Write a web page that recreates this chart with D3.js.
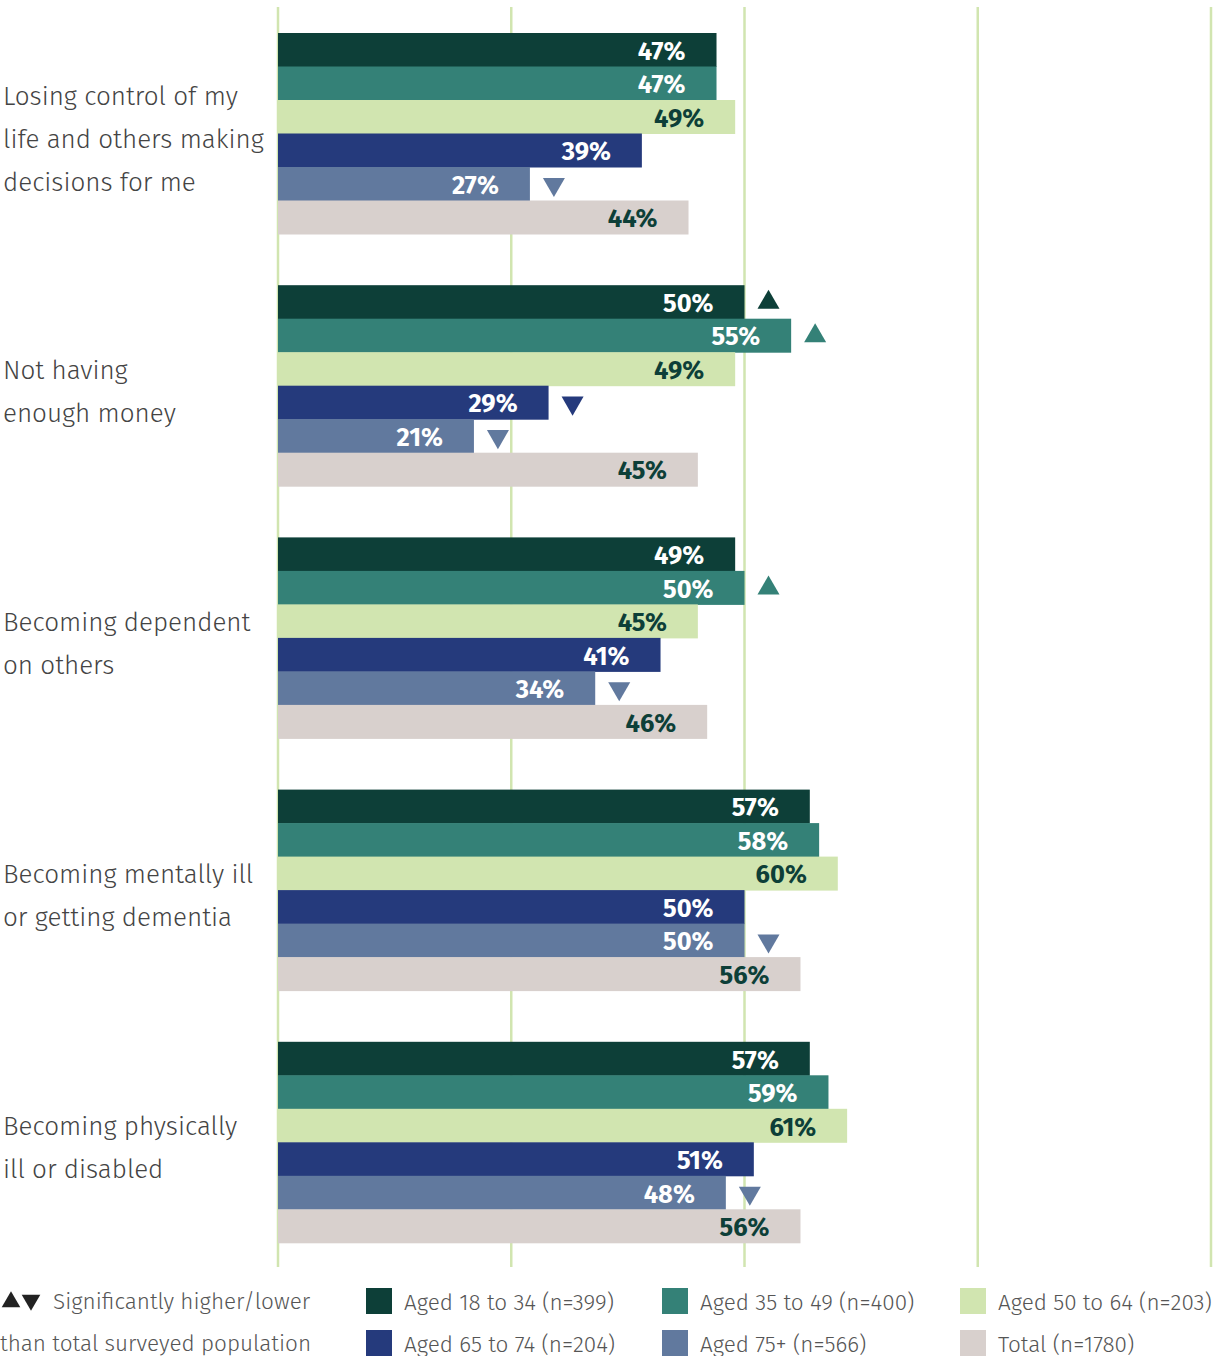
<!DOCTYPE html>
<html>
<head>
<meta charset="utf-8">
<script src="https://cdn.jsdelivr.net/npm/d3@7"></script>
<style>
  body { margin: 0; background: #fff; }
  svg { display: block; font-family: "Fira Sans", "Noto Sans", "Open Sans", sans-serif; }
</style>
</head>
<body>
<div id="chart"></div>
<script>
const categories = [
  ["Losing control of my", "life and others making", "decisions for me"],
  ["Not having", "enough money"],
  ["Becoming dependent", "on others"],
  ["Becoming mentally ill", "or getting dementia"],
  ["Becoming physically", "ill or disabled"]
];
const seriesNames = [
  "Aged 18 to 34 (n=399)", "Aged 35 to 49 (n=400)", "Aged 50 to 64 (n=203)",
  "Aged 65 to 74 (n=204)", "Aged 75+ (n=566)", "Total (n=1780)"
];
const colors = ["#0d3f38", "#348177", "#d1e5b0", "#253a7c", "#61799e", "#d8d0cd"];
const labelColors = ["#fff", "#fff", "#0d3f38", "#fff", "#fff", "#0d3f38"];
// values per category, one per series
const values = [
  [47, 47, 49, 39, 27, 44],
  [50, 55, 49, 29, 21, 45],
  [49, 50, 45, 41, 34, 46],
  [57, 58, 60, 50, 50, 56],
  [57, 59, 61, 51, 48, 56]
];
// significance markers: 1 = higher, -1 = lower, 0 = none
const sig = [
  [0, 0, 0, 0, -1, 0],
  [1, 1, 0, -1, -1, 0],
  [0, 1, 0, 0, -1, 0],
  [0, 0, 0, 0, -1, 0],
  [0, 0, 0, 0, -1, 0]
];
const ticks = [0, 25, 50, 75, 100];

const width = 1213, height = 1356;
const barH = 33.5;

const svg = d3.select("#chart").append("svg")
  .attr("width", width)
  .attr("height", height);

const x = d3.scaleLinear().domain([0, 100]).range([278, 1211]);
const y = d3.scaleBand().domain(d3.range(categories.length)).range([33, 1294]).paddingInner(0);
const yIn = d3.scaleBand().domain(d3.range(seriesNames.length)).range([0, barH * 6]);

// grid lines
svg.append("g")
  .selectAll("line")
  .data(ticks)
  .join("line")
  .attr("x1", d => x(d)).attr("x2", d => x(d))
  .attr("y1", 7).attr("y2", 1267)
  .attr("stroke", "#d1e5b0")
  .attr("stroke-width", 2.5);

const groups = svg.append("g")
  .selectAll("g")
  .data(values)
  .join("g")
  .attr("transform", (d, i) => `translate(0,${y(i)})`);

groups.selectAll("rect")
  .data(d => d)
  .join("rect")
  .attr("x", x(0))
  .attr("y", (d, i) => yIn(i))
  .attr("width", d => x(d) - x(0))
  .attr("height", barH + 0.5)
  .attr("fill", (d, i) => colors[i]);

groups.selectAll("text.val")
  .data(d => d)
  .join("text")
  .attr("class", "val")
  .attr("x", d => x(d) - 31)
  .attr("y", (d, i) => yIn(i) + barH / 2 + 1.5)
  .attr("text-anchor", "end")
  .attr("dominant-baseline", "central")
  .attr("font-size", 25.5)
  .attr("font-weight", "bold")
  .attr("fill", (d, i) => labelColors[i])
  .text(d => d + "%");

// significance triangles
const tri = d3.symbol().type(d3.symbolTriangle).size(210);
groups.each(function(vals, gi) {
  d3.select(this).selectAll("path.sig")
    .data(vals.map((v, i) => ({ v, i, s: sig[gi][i] })).filter(d => d.s !== 0))
    .join("path")
    .attr("class", "sig")
    .attr("d", tri)
    .attr("fill", d => colors[d.i])
    .attr("transform", d => `translate(${x(d.v) + 24},${yIn(d.i) + barH / 2 + 0.5}) rotate(${d.s > 0 ? 0 : 180})`);
});

// category labels
svg.append("g")
  .selectAll("text")
  .data(categories)
  .join("text")
  .attr("font-size", 26)
  .attr("font-weight", 300)
  .attr("fill", "#444")
  .attr("transform", (d, i) => `translate(3,${y(i) + barH * 3 + 6})`)
  .selectAll("tspan")
  .data(d => d.map((t, j) => ({ t, j, n: d.length })))
  .join("tspan")
  .attr("x", 0)
  .attr("y", d => (d.j - (d.n - 1) / 2) * 43)
  .attr("dominant-baseline", "central")
  .text(d => d.t);

// legend
const legend = svg.append("g").attr("font-size", 22.5).attr("font-weight", 300).attr("fill", "#555");
legend.append("path")
  .attr("d", tri.size(150))
  .attr("transform", "translate(11,1302)")
  .attr("fill", "#222");
legend.append("path")
  .attr("d", tri)
  .attr("transform", "translate(31,1300) rotate(180)")
  .attr("fill", "#222");
legend.append("text").attr("x", 53).attr("y", 1301).attr("dominant-baseline", "central")
  .text("Significantly higher/lower");
legend.append("text").attr("x", 0).attr("y", 1343).attr("dominant-baseline", "central")
  .text("than total surveyed population");

const legX = [366, 662, 960];
const item = legend.selectAll("g.item")
  .data(seriesNames)
  .join("g")
  .attr("class", "item")
  .attr("transform", (d, i) => `translate(${legX[i % 3]},${i < 3 ? 1288 : 1330})`);
item.append("rect")
  .attr("width", 26).attr("height", 26)
  .attr("fill", (d, i) => colors[i]);
item.append("text")
  .attr("x", 38).attr("y", 14)
  .attr("dominant-baseline", "central")
  .text(d => d);
</script>
</body>
</html>
